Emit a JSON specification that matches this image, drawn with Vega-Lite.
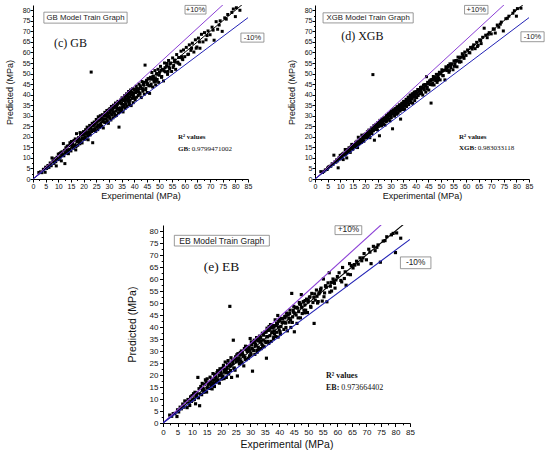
{
  "$schema": "https://vega.github.io/schema/vega-lite/v6.json",
  "background": "white",
  "padding": {"left": 5, "top": 5, "right": 0, "bottom": 0},
  "datasets": {
    "one": [{}],
    "lines": [
      {"s": "fit", "x": 0, "y": 0}, {"s": "fit", "x": 85, "y": 85},
      {"s": "plus", "x": 0, "y": 0}, {"s": "plus", "x": 85, "y": 93.5},
      {"s": "minus", "x": 0, "y": 0}, {"s": "minus", "x": 85, "y": 76.5}
    ],
    "pts": [
      {"e":2.3,"gb":3.1,"xgb":3.5,"eb":3.3},{"e":3.0,"gb":3.4,"xgb":3.1,"eb":2.8},{"e":3.5,"gb":3.0,"xgb":3.6,"eb":3.9},
      {"e":4.1,"gb":4.6,"xgb":4.3,"eb":4.0},{"e":4.8,"gb":3.2,"xgb":4.5,"eb":2.7},{"e":5.0,"gb":5.6,"xgb":5.2,"eb":5.5},
      {"e":5.4,"gb":5.0,"xgb":5.7,"eb":4.6},{"e":5.9,"gb":6.4,"xgb":6.0,"eb":6.6},{"e":6.3,"gb":5.5,"xgb":6.1,"eb":5.9},
      {"e":6.8,"gb":7.6,"xgb":7.2,"eb":7.9},{"e":7.2,"gb":6.3,"xgb":7.0,"eb":6.6},{"e":7.5,"gb":10.0,"xgb":11.3,"eb":9.2},
      {"e":7.9,"gb":8.6,"xgb":8.1,"eb":8.9},{"e":8.3,"gb":7.4,"xgb":8.0,"eb":6.4},{"e":8.6,"gb":9.6,"xgb":9.1,"eb":9.8},
      {"e":9.0,"gb":8.2,"xgb":8.6,"eb":8.1},{"e":9.2,"gb":6.2,"xgb":5.3,"eb":7.3},{"e":9.5,"gb":10.3,"xgb":10.0,"eb":10.9},
      {"e":9.8,"gb":9.2,"xgb":9.5,"eb":9.0},{"e":10.0,"gb":11.8,"xgb":11.2,"eb":11.4},
      {"e":10.3,"gb":9.4,"xgb":9.9,"eb":9.6},{"e":10.5,"gb":12.0,"xgb":11.4,"eb":12.2},{"e":10.8,"gb":10.4,"xgb":10.6,"eb":9.8},
      {"e":11.0,"gb":12.5,"xgb":11.9,"eb":12.8},{"e":11.2,"gb":8.6,"xgb":9.2,"eb":8.0},{"e":11.5,"gb":12.9,"xgb":12.3,"eb":11.1},
      {"e":11.7,"gb":11.2,"xgb":11.5,"eb":12.6},{"e":12.0,"gb":16.8,"xgb":14.0,"eb":19.0},{"e":12.2,"gb":11.0,"xgb":11.6,"eb":10.5},
      {"e":12.4,"gb":13.6,"xgb":13.0,"eb":14.3},{"e":12.6,"gb":7.3,"xgb":10.0,"eb":7.2},{"e":12.8,"gb":12.3,"xgb":12.5,"eb":12.0},
      {"e":13.0,"gb":14.8,"xgb":14.0,"eb":15.2},{"e":13.3,"gb":12.4,"xgb":12.9,"eb":11.8},{"e":13.5,"gb":15.6,"xgb":14.8,"eb":16.5},
      {"e":13.8,"gb":13.2,"xgb":13.5,"eb":14.4},{"e":14.0,"gb":12.0,"xgb":12.6,"eb":12.8},{"e":14.2,"gb":15.8,"xgb":15.1,"eb":16.0},
      {"e":14.5,"gb":14.0,"xgb":14.3,"eb":13.4},{"e":14.8,"gb":16.3,"xgb":15.5,"eb":17.2},{"e":15.0,"gb":13.3,"xgb":14.1,"eb":12.9},
      {"e":15.2,"gb":17.8,"xgb":16.4,"eb":18.4},{"e":15.5,"gb":15.0,"xgb":15.3,"eb":15.8},{"e":15.7,"gb":16.9,"xgb":16.2,"eb":16.6},
      {"e":16.0,"gb":14.6,"xgb":15.2,"eb":14.4},{"e":16.2,"gb":18.3,"xgb":17.4,"eb":19.1},{"e":16.4,"gb":16.0,"xgb":16.2,"eb":17.0},
      {"e":16.7,"gb":19.0,"xgb":17.9,"eb":18.2},{"e":17.0,"gb":15.4,"xgb":16.2,"eb":15.8},{"e":17.2,"gb":21.5,"xgb":19.8,"eb":20.6},
      {"e":17.4,"gb":17.8,"xgb":17.3,"eb":16.7},{"e":17.7,"gb":16.0,"xgb":16.8,"eb":15.2},{"e":18.0,"gb":19.6,"xgb":18.8,"eb":20.2},
      {"e":18.2,"gb":18.6,"xgb":18.4,"eb":19.0},{"e":18.5,"gb":16.7,"xgb":17.3,"eb":17.6},{"e":18.8,"gb":21.0,"xgb":20.2,"eb":21.8},
      {"e":19.0,"gb":18.4,"xgb":18.7,"eb":18.0},{"e":19.2,"gb":20.8,"xgb":19.9,"eb":21.4},{"e":19.4,"gb":17.1,"xgb":17.9,"eb":16.6},
      {"e":19.6,"gb":21.8,"xgb":20.9,"eb":22.6},{"e":19.8,"gb":19.2,"xgb":19.5,"eb":19.9},{"e":20.0,"gb":22.5,"xgb":21.3,"eb":20.8},
      {"e":14.6,"gb":17.2,"xgb":16.4,"eb":18.0},{"e":16.9,"gb":13.8,"xgb":14.9,"eb":14.2},{"e":18.6,"gb":22.0,"xgb":20.8,"eb":21.0},
      {"e":20.2,"gb":18.8,"xgb":19.5,"eb":18.3},{"e":20.4,"gb":21.6,"xgb":21.0,"eb":22.8},{"e":20.6,"gb":20.0,"xgb":20.3,"eb":19.6},
      {"e":20.8,"gb":23.4,"xgb":22.4,"eb":24.0},{"e":21.0,"gb":19.0,"xgb":19.8,"eb":18.5},{"e":21.2,"gb":22.0,"xgb":21.6,"eb":21.4},
      {"e":21.4,"gb":24.6,"xgb":23.2,"eb":25.4},{"e":21.6,"gb":20.4,"xgb":21.0,"eb":20.9},{"e":21.8,"gb":18.6,"xgb":19.6,"eb":19.0},
      {"e":22.0,"gb":23.6,"xgb":22.8,"eb":23.1},{"e":22.2,"gb":22.4,"xgb":22.3,"eb":24.6},{"e":22.4,"gb":25.4,"xgb":24.2,"eb":26.0},
      {"e":22.6,"gb":20.9,"xgb":21.5,"eb":20.4},{"e":22.8,"gb":24.0,"xgb":23.4,"eb":23.8},{"e":23.0,"gb":50.7,"xgb":49.5,"eb":48.6},
      {"e":23.2,"gb":22.5,"xgb":22.9,"eb":21.9},{"e":23.4,"gb":26.4,"xgb":25.3,"eb":27.2},{"e":23.6,"gb":17.2,"xgb":18.4,"eb":19.0},
      {"e":23.8,"gb":25.2,"xgb":24.5,"eb":25.8},{"e":24.0,"gb":23.0,"xgb":23.5,"eb":24.8},{"e":24.2,"gb":27.0,"xgb":25.9,"eb":34.5},
      {"e":24.4,"gb":23.8,"xgb":24.1,"eb":22.8},{"e":24.6,"gb":26.0,"xgb":25.4,"eb":26.6},{"e":24.8,"gb":22.6,"xgb":23.3,"eb":22.0},
      {"e":25.0,"gb":28.2,"xgb":26.8,"eb":27.6},{"e":25.2,"gb":24.6,"xgb":24.9,"eb":25.5},{"e":25.4,"gb":27.4,"xgb":26.5,"eb":28.4},
      {"e":25.6,"gb":23.4,"xgb":20.5,"eb":19.6},{"e":25.8,"gb":29.5,"xgb":27.8,"eb":28.9},{"e":26.0,"gb":25.4,"xgb":25.7,"eb":26.2},
      {"e":26.2,"gb":27.8,"xgb":27.0,"eb":27.1},{"e":26.4,"gb":24.5,"xgb":25.2,"eb":24.8},{"e":26.6,"gb":30.0,"xgb":28.4,"eb":29.4},
      {"e":26.8,"gb":26.3,"xgb":26.6,"eb":25.9},{"e":27.0,"gb":28.6,"xgb":28.0,"eb":30.0},{"e":27.2,"gb":25.0,"xgb":25.9,"eb":25.2},
      {"e":27.4,"gb":30.5,"xgb":29.0,"eb":28.6},{"e":27.6,"gb":27.2,"xgb":27.4,"eb":27.9},{"e":27.8,"gb":24.2,"xgb":25.6,"eb":23.8},
      {"e":28.0,"gb":29.8,"xgb":29.0,"eb":31.0},{"e":28.2,"gb":28.4,"xgb":28.3,"eb":27.4},{"e":28.4,"gb":31.6,"xgb":30.2,"eb":32.0},
      {"e":28.6,"gb":26.8,"xgb":27.6,"eb":26.4},{"e":28.8,"gb":30.0,"xgb":29.6,"eb":30.5},{"e":29.0,"gb":28.5,"xgb":28.8,"eb":29.8},
      {"e":29.2,"gb":32.5,"xgb":31.0,"eb":31.8},{"e":29.4,"gb":27.5,"xgb":28.3,"eb":27.0},{"e":29.6,"gb":30.8,"xgb":30.2,"eb":31.4},
      {"e":29.8,"gb":26.4,"xgb":27.6,"eb":28.0},{"e":30.0,"gb":32.8,"xgb":31.5,"eb":35.2},
      {"e":30.2,"gb":29.6,"xgb":29.9,"eb":29.2},{"e":30.4,"gb":33.4,"xgb":32.2,"eb":33.8},{"e":30.6,"gb":31.2,"xgb":30.8,"eb":31.0},
      {"e":30.8,"gb":28.0,"xgb":23.8,"eb":21.6},{"e":31.0,"gb":34.4,"xgb":32.8,"eb":33.5},{"e":31.2,"gb":30.4,"xgb":30.9,"eb":30.2},
      {"e":31.4,"gb":32.6,"xgb":32.0,"eb":34.5},{"e":31.6,"gb":29.0,"xgb":29.8,"eb":28.6},{"e":31.8,"gb":35.0,"xgb":33.4,"eb":32.8},
      {"e":32.0,"gb":31.5,"xgb":31.8,"eb":32.4},{"e":32.2,"gb":33.8,"xgb":33.0,"eb":35.6},{"e":32.4,"gb":29.8,"xgb":30.7,"eb":29.5},
      {"e":32.6,"gb":36.0,"xgb":34.3,"eb":34.2},{"e":32.8,"gb":32.2,"xgb":32.5,"eb":31.6},{"e":33.0,"gb":30.2,"xgb":31.2,"eb":30.6},
      {"e":33.2,"gb":35.2,"xgb":34.2,"eb":36.2},{"e":33.4,"gb":33.0,"xgb":33.2,"eb":33.8},{"e":33.6,"gb":36.8,"xgb":35.2,"eb":35.4},
      {"e":33.8,"gb":31.4,"xgb":32.2,"eb":31.0},{"e":34.0,"gb":24.6,"xgb":28.4,"eb":32.8},{"e":34.2,"gb":36.0,"xgb":35.0,"eb":37.4},
      {"e":34.4,"gb":33.6,"xgb":34.0,"eb":34.6},{"e":34.6,"gb":37.4,"xgb":36.0,"eb":36.6},{"e":34.8,"gb":32.0,"xgb":32.9,"eb":31.8},
      {"e":35.0,"gb":35.8,"xgb":35.4,"eb":37.8},{"e":35.2,"gb":38.5,"xgb":36.8,"eb":38.0},{"e":35.4,"gb":34.2,"xgb":34.7,"eb":33.5},
      {"e":35.6,"gb":31.8,"xgb":33.0,"eb":27.0},{"e":35.8,"gb":37.2,"xgb":36.6,"eb":39.5},{"e":36.0,"gb":35.0,"xgb":35.5,"eb":35.9},
      {"e":36.2,"gb":39.5,"xgb":37.8,"eb":38.6},{"e":36.4,"gb":33.5,"xgb":34.4,"eb":33.2},{"e":36.6,"gb":37.8,"xgb":37.0,"eb":38.8},
      {"e":36.8,"gb":35.6,"xgb":36.1,"eb":36.4},{"e":37.0,"gb":40.4,"xgb":38.8,"eb":41.0},{"e":37.2,"gb":34.4,"xgb":35.3,"eb":34.0},
      {"e":37.4,"gb":38.6,"xgb":37.9,"eb":37.6},{"e":37.6,"gb":36.8,"xgb":37.1,"eb":39.6},{"e":37.8,"gb":41.5,"xgb":39.8,"eb":40.5},
      {"e":38.0,"gb":35.3,"xgb":36.2,"eb":35.1},{"e":38.2,"gb":39.0,"xgb":38.5,"eb":39.9},{"e":38.4,"gb":37.4,"xgb":37.9,"eb":37.2},
      {"e":38.6,"gb":42.2,"xgb":40.4,"eb":43.0},{"e":38.8,"gb":34.8,"xgb":35.9,"eb":36.0},{"e":39.0,"gb":40.0,"xgb":39.4,"eb":40.6},
      {"e":39.2,"gb":38.2,"xgb":38.7,"eb":37.8},{"e":39.4,"gb":42.8,"xgb":41.2,"eb":41.4},{"e":39.6,"gb":36.2,"xgb":37.2,"eb":35.8},
      {"e":39.8,"gb":40.8,"xgb":40.3,"eb":42.4},{"e":40.0,"gb":38.4,"xgb":39.0,"eb":38.8},{"e":33.1,"gb":34.4,"xgb":33.8,"eb":34.9},
      {"e":35.1,"gb":33.0,"xgb":33.9,"eb":34.1},{"e":36.5,"gb":36.8,"xgb":36.4,"eb":40.2},{"e":38.3,"gb":41.0,"xgb":39.6,"eb":38.4},
      {"e":39.5,"gb":39.8,"xgb":39.5,"eb":44.8},
      {"e":40.2,"gb":42.6,"xgb":41.4,"eb":43.2},{"e":40.4,"gb":37.5,"xgb":38.6,"eb":37.0},{"e":40.6,"gb":41.0,"xgb":40.6,"eb":40.2},
      {"e":40.8,"gb":44.0,"xgb":42.4,"eb":43.6},{"e":41.0,"gb":38.8,"xgb":39.6,"eb":41.8},{"e":41.3,"gb":42.4,"xgb":41.9,"eb":42.0},
      {"e":41.6,"gb":39.6,"xgb":40.4,"eb":39.0},{"e":41.9,"gb":45.0,"xgb":43.4,"eb":44.4},{"e":42.2,"gb":40.8,"xgb":41.3,"eb":41.6},
      {"e":42.5,"gb":43.6,"xgb":43.0,"eb":45.8},{"e":42.8,"gb":38.6,"xgb":39.8,"eb":38.4},{"e":43.1,"gb":46.2,"xgb":44.5,"eb":45.0},
      {"e":43.4,"gb":41.6,"xgb":42.3,"eb":42.0},{"e":43.7,"gb":44.6,"xgb":44.0,"eb":47.0},{"e":44.0,"gb":40.2,"xgb":41.2,"eb":39.8},
      {"e":44.3,"gb":54.0,"xgb":48.5,"eb":54.0},{"e":44.6,"gb":43.0,"xgb":43.6,"eb":44.2},{"e":44.9,"gb":46.8,"xgb":45.8,"eb":46.2},
      {"e":45.2,"gb":41.0,"xgb":42.2,"eb":38.0},{"e":45.5,"gb":47.6,"xgb":46.5,"eb":48.0},{"e":45.8,"gb":44.2,"xgb":44.8,"eb":45.0},
      {"e":46.1,"gb":40.6,"xgb":36.0,"eb":41.5},{"e":46.4,"gb":48.2,"xgb":47.2,"eb":47.8},{"e":46.7,"gb":45.0,"xgb":45.6,"eb":46.4},
      {"e":47.0,"gb":50.5,"xgb":48.6,"eb":49.6},{"e":47.3,"gb":43.6,"xgb":44.6,"eb":43.8},{"e":47.6,"gb":48.8,"xgb":48.0,"eb":53.5},
      {"e":47.9,"gb":46.0,"xgb":46.6,"eb":45.6},{"e":48.2,"gb":51.4,"xgb":49.6,"eb":50.4},{"e":48.5,"gb":44.6,"xgb":45.8,"eb":47.0},
      {"e":48.8,"gb":49.8,"xgb":49.0,"eb":49.2},{"e":49.1,"gb":47.2,"xgb":47.8,"eb":47.0},{"e":49.4,"gb":52.0,"xgb":50.6,"eb":51.6},
      {"e":49.7,"gb":45.8,"xgb":47.0,"eb":46.0},{"e":50.0,"gb":50.6,"xgb":50.2,"eb":51.0},{"e":42.0,"gb":42.8,"xgb":42.4,"eb":43.8},
      {"e":43.9,"gb":45.8,"xgb":44.8,"eb":43.0},{"e":45.0,"gb":45.6,"xgb":45.2,"eb":48.6},{"e":46.9,"gb":47.6,"xgb":47.2,"eb":50.2},
      {"e":48.4,"gb":47.6,"xgb":48.0,"eb":50.6},
      {"e":50.4,"gb":53.4,"xgb":51.8,"eb":52.4},{"e":50.8,"gb":48.2,"xgb":49.0,"eb":48.6},{"e":51.2,"gb":52.0,"xgb":51.5,"eb":54.0},
      {"e":51.6,"gb":46.5,"xgb":47.0,"eb":50.2},{"e":52.0,"gb":55.0,"xgb":53.2,"eb":41.5},{"e":52.4,"gb":50.8,"xgb":51.4,"eb":51.2},
      {"e":52.8,"gb":53.6,"xgb":53.0,"eb":55.4},{"e":53.2,"gb":49.6,"xgb":50.6,"eb":50.0},{"e":53.6,"gb":56.2,"xgb":54.6,"eb":53.8},
      {"e":54.0,"gb":52.4,"xgb":52.8,"eb":54.6},{"e":54.4,"gb":55.0,"xgb":54.6,"eb":56.2},{"e":54.8,"gb":51.0,"xgb":51.8,"eb":50.8},
      {"e":55.2,"gb":57.4,"xgb":56.0,"eb":60.0},{"e":55.6,"gb":53.8,"xgb":54.4,"eb":54.2},{"e":56.0,"gb":56.4,"xgb":56.2,"eb":57.2},
      {"e":56.4,"gb":52.0,"xgb":53.2,"eb":50.5},{"e":56.8,"gb":59.0,"xgb":57.8,"eb":58.4},{"e":57.2,"gb":55.4,"xgb":56.0,"eb":62.6},
      {"e":57.6,"gb":57.6,"xgb":57.4,"eb":57.0},{"e":58.0,"gb":54.4,"xgb":55.6,"eb":55.0},{"e":58.5,"gb":60.6,"xgb":59.4,"eb":60.0},
      {"e":59.0,"gb":57.0,"xgb":57.8,"eb":58.2},{"e":59.5,"gb":61.2,"xgb":60.2,"eb":59.6},{"e":60.0,"gb":58.0,"xgb":58.6,"eb":61.0},
      {"e":53.0,"gb":54.8,"xgb":53.8,"eb":52.8},
      {"e":60.6,"gb":62.4,"xgb":61.2,"eb":62.6},{"e":61.2,"gb":59.0,"xgb":60.0,"eb":59.4},{"e":61.8,"gb":63.6,"xgb":62.4,"eb":64.8},
      {"e":62.4,"gb":61.0,"xgb":61.6,"eb":60.2},{"e":63.0,"gb":64.4,"xgb":63.6,"eb":57.4},{"e":63.6,"gb":60.2,"xgb":61.8,"eb":62.0},
      {"e":64.2,"gb":66.0,"xgb":64.8,"eb":66.4},{"e":64.8,"gb":62.6,"xgb":63.4,"eb":65.6},{"e":65.4,"gb":66.8,"xgb":66.0,"eb":64.6},
      {"e":66.0,"gb":62.0,"xgb":64.2,"eb":65.8},{"e":66.6,"gb":68.6,"xgb":67.2,"eb":67.4},{"e":67.2,"gb":65.0,"xgb":71.5,"eb":66.2},
      {"e":67.8,"gb":69.4,"xgb":68.2,"eb":68.8},{"e":68.4,"gb":66.0,"xgb":67.0,"eb":67.6},{"e":69.2,"gb":70.2,"xgb":69.4,"eb":70.6},
      {"e":70.0,"gb":68.4,"xgb":68.8,"eb":68.0},{"e":70.8,"gb":72.0,"xgb":71.2,"eb":72.4},{"e":71.6,"gb":65.8,"xgb":69.2,"eb":66.4},
      {"e":72.4,"gb":74.6,"xgb":73.0,"eb":73.6},{"e":73.0,"gb":71.0,"xgb":72.0,"eb":71.8},{"e":74.0,"gb":75.0,"xgb":74.4,"eb":74.2},
      {"e":74.8,"gb":70.0,"xgb":70.2,"eb":67.0},{"e":75.8,"gb":76.4,"xgb":76.0,"eb":75.8},{"e":77.0,"gb":78.0,"xgb":77.2,"eb":77.6},
      {"e":78.6,"gb":79.0,"xgb":78.6,"eb":78.4},{"e":80.0,"gb":77.0,"xgb":77.2,"eb":71.0},{"e":80.4,"gb":81.2,"xgb":80.8,"eb":79.2},
      {"e":81.8,"gb":80.0,"xgb":81.0,"eb":77.0},{"e":79.2,"gb":80.6,"xgb":79.8,"eb":79.0},
      {"e":15.3,"gb":16.2,"xgb":15.9,"eb":14.6},{"e":17.8,"gb":18.9,"xgb":18.5,"eb":19.4},{"e":19.9,"gb":21.0,"xgb":20.6,"eb":21.5},
      {"e":21.1,"gb":21.8,"xgb":21.5,"eb":22.3},{"e":22.9,"gb":24.4,"xgb":23.9,"eb":24.6},{"e":24.1,"gb":25.5,"xgb":25.0,"eb":26.0},
      {"e":25.3,"gb":26.9,"xgb":26.2,"eb":26.8},{"e":26.5,"gb":28.0,"xgb":27.5,"eb":28.3},{"e":27.3,"gb":28.9,"xgb":28.4,"eb":29.4},
      {"e":28.5,"gb":30.2,"xgb":29.5,"eb":30.6},{"e":29.5,"gb":31.3,"xgb":30.6,"eb":31.6},{"e":30.5,"gb":32.4,"xgb":31.6,"eb":32.5},
      {"e":31.5,"gb":33.4,"xgb":32.6,"eb":33.8},{"e":32.5,"gb":34.6,"xgb":33.6,"eb":34.8},{"e":33.5,"gb":35.6,"xgb":34.8,"eb":35.8},
      {"e":34.5,"gb":36.6,"xgb":35.8,"eb":36.9},{"e":35.5,"gb":37.5,"xgb":36.8,"eb":37.9},{"e":36.3,"gb":38.4,"xgb":37.6,"eb":38.8},
      {"e":37.3,"gb":39.5,"xgb":38.6,"eb":39.8},{"e":38.1,"gb":40.2,"xgb":39.4,"eb":40.6},{"e":39.1,"gb":41.2,"xgb":40.4,"eb":41.6},
      {"e":40.1,"gb":42.2,"xgb":41.4,"eb":42.6},{"e":41.1,"gb":43.0,"xgb":42.4,"eb":43.4},{"e":42.4,"gb":44.2,"xgb":43.6,"eb":44.6},
      {"e":43.6,"gb":45.4,"xgb":44.8,"eb":45.6},{"e":44.8,"gb":46.4,"xgb":45.8,"eb":47.0},{"e":46.0,"gb":47.4,"xgb":47.0,"eb":48.2},
      {"e":47.4,"gb":48.6,"xgb":48.2,"eb":49.4},{"e":48.9,"gb":50.0,"xgb":49.6,"eb":51.0},{"e":50.6,"gb":51.6,"xgb":51.2,"eb":52.6},
      {"e":52.2,"gb":52.8,"xgb":52.6,"eb":53.8},{"e":54.2,"gb":54.6,"xgb":54.4,"eb":55.6},{"e":55.9,"gb":55.8,"xgb":55.8,"eb":57.0},
      {"e":57.9,"gb":57.6,"xgb":57.8,"eb":58.6},
      {"e":16.6,"gb":15.8,"xgb":16.0,"eb":15.6},{"e":18.3,"gb":17.4,"xgb":17.6,"eb":17.0},{"e":20.5,"gb":19.4,"xgb":19.7,"eb":19.2},
      {"e":22.5,"gb":21.3,"xgb":21.6,"eb":21.0},{"e":24.5,"gb":23.2,"xgb":23.5,"eb":22.9},{"e":26.3,"gb":25.0,"xgb":25.3,"eb":24.6},
      {"e":28.3,"gb":26.9,"xgb":27.2,"eb":26.5},{"e":30.3,"gb":28.8,"xgb":29.1,"eb":28.4},{"e":32.3,"gb":30.7,"xgb":31.0,"eb":30.3},
      {"e":34.3,"gb":32.6,"xgb":33.0,"eb":32.2},{"e":36.1,"gb":34.3,"xgb":34.7,"eb":34.0},{"e":38.1,"gb":36.2,"xgb":36.6,"eb":35.8},
      {"e":40.3,"gb":38.3,"xgb":38.7,"eb":38.0},{"e":42.3,"gb":40.2,"xgb":40.6,"eb":39.8},{"e":44.5,"gb":42.3,"xgb":42.7,"eb":41.9},
      {"e":46.5,"gb":44.2,"xgb":44.6,"eb":43.8},{"e":48.7,"gb":46.3,"xgb":46.8,"eb":45.9},{"e":50.9,"gb":48.6,"xgb":49.0,"eb":48.2},
      {"e":53.4,"gb":51.0,"xgb":51.4,"eb":50.6},{"e":55.4,"gb":52.9,"xgb":53.4,"eb":52.6},{"e":57.4,"gb":54.9,"xgb":55.4,"eb":54.5},
      {"e":59.2,"gb":56.6,"xgb":57.2,"eb":56.2},{"e":61.5,"gb":59.2,"xgb":59.8,"eb":58.8},{"e":64.5,"gb":62.0,"xgb":62.8,"eb":61.8},
      {"e":11.4,"gb":11.6,"xgb":11.5,"eb":11.8},{"e":13.6,"gb":13.8,"xgb":13.7,"eb":14.0},{"e":15.9,"gb":16.0,"xgb":16.0,"eb":16.4},
      {"e":17.5,"gb":17.6,"xgb":17.6,"eb":18.0},{"e":19.3,"gb":19.4,"xgb":19.4,"eb":19.8},{"e":21.7,"gb":21.6,"xgb":21.8,"eb":22.0},
      {"e":23.3,"gb":23.4,"xgb":23.4,"eb":23.8},{"e":25.7,"gb":25.6,"xgb":25.8,"eb":26.1},{"e":27.7,"gb":27.6,"xgb":27.8,"eb":28.0},
      {"e":29.7,"gb":29.6,"xgb":29.8,"eb":30.2},{"e":31.7,"gb":31.6,"xgb":31.7,"eb":32.0},{"e":33.7,"gb":33.4,"xgb":33.6,"eb":34.0},
      {"e":35.7,"gb":35.4,"xgb":35.6,"eb":36.0},{"e":37.7,"gb":37.4,"xgb":37.6,"eb":38.0},{"e":39.7,"gb":39.4,"xgb":39.6,"eb":40.0},
      {"e":41.7,"gb":41.2,"xgb":41.6,"eb":42.0},{"e":43.3,"gb":42.8,"xgb":43.2,"eb":43.6},{"e":45.3,"gb":44.8,"xgb":45.2,"eb":45.8},
      {"e":47.7,"gb":47.0,"xgb":47.6,"eb":48.2},{"e":49.9,"gb":49.2,"xgb":49.8,"eb":50.4},{"e":51.9,"gb":51.2,"xgb":51.8,"eb":52.4},
      {"e":53.8,"gb":53.0,"xgb":53.6,"eb":54.2},{"e":56.2,"gb":55.4,"xgb":56.0,"eb":56.6},{"e":58.8,"gb":58.0,"xgb":58.6,"eb":59.0},
      {"e":62.7,"gb":62.0,"xgb":62.6,"eb":63.0},{"e":65.8,"gb":65.0,"xgb":65.6,"eb":66.0},{"e":68.8,"gb":68.0,"xgb":68.6,"eb":68.8},
      {"e":71.2,"gb":70.6,"xgb":71.0,"eb":71.2},{"e":73.6,"gb":73.0,"xgb":73.4,"eb":73.2},{"e":76.4,"gb":75.8,"xgb":76.2,"eb":76.0}
    ]
  },
  "vconcat": [
    {
      "hconcat": [
        {
          "width": 215,
          "height": 174,
          "layer": [
            {
              "data": {"name": "pts"},
              "mark": {"type": "square", "size": 9, "color": "#000", "opacity": 1},
              "encoding": {
                "x": {"field": "e", "type": "quantitative", "scale": {"domain": [0, 85], "nice": false},
                  "axis": {"title": "Experimental (MPa)", "tickCount": 100, "values": [0,2.5,5,7.5,10,12.5,15,17.5,20,22.5,25,27.5,30,32.5,35,37.5,40,42.5,45,47.5,50,52.5,55,57.5,60,62.5,65,67.5,70,72.5,75,77.5,80,82.5,85],
                    "labelExpr": "datum.value % 5 === 0 ? format(datum.value, 'd') : ''",
                    "tickSize": {"condition": {"test": "datum.value % 5 === 0", "value": 3}, "value": 1.5},
                    "labelPadding": 0, "titlePadding": 2.5}},
                "y": {"field": "gb", "type": "quantitative", "scale": {"domain": [0, 82.5], "nice": false},
                  "axis": {"title": "Predicted (MPa)", "tickCount": 100, "values": [0,2.5,5,7.5,10,12.5,15,17.5,20,22.5,25,27.5,30,32.5,35,37.5,40,42.5,45,47.5,50,52.5,55,57.5,60,62.5,65,67.5,70,72.5,75,77.5,80],
                    "labelExpr": "datum.value % 5 === 0 ? format(datum.value, 'd') : ''",
                    "tickSize": {"condition": {"test": "datum.value % 5 === 0", "value": 3}, "value": 1.5},
                    "labelPadding": 0, "titlePadding": 8}}
              }
            },
            {
              "data": {"name": "lines"},
              "mark": {"type": "line", "strokeWidth": 1, "clip": true},
              "encoding": {
                "x": {"field": "x", "type": "quantitative"},
                "y": {"field": "y", "type": "quantitative"},
                "color": {"field": "s", "type": "nominal", "scale": {"domain": ["fit", "plus", "minus"], "range": ["#000000", "#8b3fd6", "#2222b5"]}, "legend": null}
              }
            },
            {"data": {"name": "one"}, "mark": {"type": "rect", "fill": "#fff", "stroke": "#808080", "strokeWidth": 0.8},
              "encoding": {"x": {"datum": 4.3}, "x2": {"datum": 37.2}, "y": {"datum": 73.9}, "y2": {"datum": 79.1}}},
            {"data": {"name": "one"}, "mark": {"type": "rect", "fill": "#fff", "stroke": "#808080", "strokeWidth": 0.8},
              "encoding": {"x": {"datum": 60.1}, "x2": {"datum": 68.4}, "y": {"datum": 78.2}, "y2": {"datum": 82.3}}},
            {"data": {"name": "one"}, "mark": {"type": "rect", "fill": "#fff", "stroke": "#808080", "strokeWidth": 0.8},
              "encoding": {"x": {"datum": 82.2}, "x2": {"datum": 91.3}, "y": {"datum": 64.9}, "y2": {"datum": 69.2}}},
            {"data": {"name": "one"}, "mark": {"type": "text", "text": "GB Model Train Graph", "font": "Liberation Sans", "fontSize": 7.8, "align": "center", "baseline": "middle", "color": "#222"},
              "encoding": {"x": {"datum": 20.75}, "y": {"datum": 76.5}}},
            {"data": {"name": "one"}, "mark": {"type": "text", "text": "+10%", "font": "Liberation Sans", "fontSize": 7.5, "align": "center", "baseline": "middle", "color": "#222"},
              "encoding": {"x": {"datum": 64.25}, "y": {"datum": 80.2}}},
            {"data": {"name": "one"}, "mark": {"type": "text", "text": "-10%", "font": "Liberation Sans", "fontSize": 7.5, "align": "center", "baseline": "middle", "color": "#222"},
              "encoding": {"x": {"datum": 86.75}, "y": {"datum": 67}}},
            {"data": {"name": "one"}, "mark": {"type": "text", "text": "(c) GB", "font": "Liberation Serif", "fontSize": 12, "align": "left", "baseline": "middle", "color": "#111"},
              "encoding": {"x": {"datum": 8.3}, "y": {"datum": 64.4}}},
            {"data": {"name": "one"}, "mark": {"type": "text", "text": "R² values", "font": "Liberation Serif", "fontSize": 7, "fontWeight": "bold", "align": "left", "baseline": "middle", "color": "#111"},
              "encoding": {"x": {"datum": 57.3}, "y": {"datum": 19.9}}},
            {"data": {"name": "one"}, "mark": {"type": "text", "text": "GB:", "font": "Liberation Serif", "fontSize": 7, "fontWeight": "bold", "align": "left", "baseline": "middle", "color": "#111"},
              "encoding": {"x": {"datum": 57.3}, "y": {"datum": 14.2}}},
            {"data": {"name": "one"}, "mark": {"type": "text", "text": "0.9799471002", "font": "Liberation Serif", "fontSize": 7, "align": "left", "baseline": "middle", "color": "#111"},
              "encoding": {"x": {"datum": 62.8}, "y": {"datum": 14.2}}}
          ]
        },
        {
          "width": 214,
          "height": 174,
          "layer": [
            {
              "data": {"name": "pts"},
              "mark": {"type": "square", "size": 9, "color": "#000", "opacity": 1},
              "encoding": {
                "x": {"field": "e", "type": "quantitative", "scale": {"domain": [0, 85], "nice": false},
                  "axis": {"title": "Experimental (MPa)", "tickCount": 100, "values": [0,2.5,5,7.5,10,12.5,15,17.5,20,22.5,25,27.5,30,32.5,35,37.5,40,42.5,45,47.5,50,52.5,55,57.5,60,62.5,65,67.5,70,72.5,75,77.5,80,82.5,85],
                    "labelExpr": "datum.value % 5 === 0 ? format(datum.value, 'd') : ''",
                    "tickSize": {"condition": {"test": "datum.value % 5 === 0", "value": 3}, "value": 1.5},
                    "labelPadding": 0, "titlePadding": 2.5}},
                "y": {"field": "xgb", "type": "quantitative", "scale": {"domain": [0, 82.5], "nice": false},
                  "axis": {"title": "Predicted (MPa)", "tickCount": 100, "values": [0,2.5,5,7.5,10,12.5,15,17.5,20,22.5,25,27.5,30,32.5,35,37.5,40,42.5,45,47.5,50,52.5,55,57.5,60,62.5,65,67.5,70,72.5,75,77.5,80],
                    "labelExpr": "datum.value % 5 === 0 ? format(datum.value, 'd') : ''",
                    "tickSize": {"condition": {"test": "datum.value % 5 === 0", "value": 3}, "value": 1.5},
                    "labelPadding": 0, "titlePadding": 8}}
              }
            },
            {
              "data": {"name": "lines"},
              "mark": {"type": "line", "strokeWidth": 1, "clip": true},
              "encoding": {
                "x": {"field": "x", "type": "quantitative"},
                "y": {"field": "y", "type": "quantitative"},
                "color": {"field": "s", "type": "nominal", "scale": {"domain": ["fit", "plus", "minus"], "range": ["#000000", "#8b3fd6", "#2222b5"]}, "legend": null}
              }
            },
            {"data": {"name": "one"}, "mark": {"type": "rect", "fill": "#fff", "stroke": "#808080", "strokeWidth": 0.8},
              "encoding": {"x": {"datum": 3.2}, "x2": {"datum": 39}, "y": {"datum": 74}, "y2": {"datum": 78.8}}},
            {"data": {"name": "one"}, "mark": {"type": "rect", "fill": "#fff", "stroke": "#808080", "strokeWidth": 0.8},
              "encoding": {"x": {"datum": 59.4}, "x2": {"datum": 68.7}, "y": {"datum": 78.2}, "y2": {"datum": 82.3}}},
            {"data": {"name": "one"}, "mark": {"type": "rect", "fill": "#fff", "stroke": "#808080", "strokeWidth": 0.8},
              "encoding": {"x": {"datum": 81.8}, "x2": {"datum": 91}, "y": {"datum": 65.1}, "y2": {"datum": 69.8}}},
            {"data": {"name": "one"}, "mark": {"type": "text", "text": "XGB Model Train Graph", "font": "Liberation Sans", "fontSize": 7.8, "align": "center", "baseline": "middle", "color": "#222"},
              "encoding": {"x": {"datum": 21.1}, "y": {"datum": 76.4}}},
            {"data": {"name": "one"}, "mark": {"type": "text", "text": "+10%", "font": "Liberation Sans", "fontSize": 7.5, "align": "center", "baseline": "middle", "color": "#222"},
              "encoding": {"x": {"datum": 64.05}, "y": {"datum": 80.2}}},
            {"data": {"name": "one"}, "mark": {"type": "text", "text": "-10%", "font": "Liberation Sans", "fontSize": 7.5, "align": "center", "baseline": "middle", "color": "#222"},
              "encoding": {"x": {"datum": 86.4}, "y": {"datum": 67.4}}},
            {"data": {"name": "one"}, "mark": {"type": "text", "text": "(d) XGB", "font": "Liberation Serif", "fontSize": 12, "align": "left", "baseline": "middle", "color": "#111"},
              "encoding": {"x": {"datum": 10.4}, "y": {"datum": 67.6}}},
            {"data": {"name": "one"}, "mark": {"type": "text", "text": "R² values", "font": "Liberation Serif", "fontSize": 7, "fontWeight": "bold", "align": "left", "baseline": "middle", "color": "#111"},
              "encoding": {"x": {"datum": 57.2}, "y": {"datum": 19.8}}},
            {"data": {"name": "one"}, "mark": {"type": "text", "text": "XGB:", "font": "Liberation Serif", "fontSize": 7, "fontWeight": "bold", "align": "left", "baseline": "middle", "color": "#111"},
              "encoding": {"x": {"datum": 57.2}, "y": {"datum": 14.5}}},
            {"data": {"name": "one"}, "mark": {"type": "text", "text": "0.983033118", "font": "Liberation Serif", "fontSize": 7, "align": "left", "baseline": "middle", "color": "#111"},
              "encoding": {"x": {"datum": 64.6}, "y": {"datum": 14.5}}}
          ]
        }
      ],
      "spacing": 22
    },
    {
      "hconcat": [
        {
          "width": 94,
          "height": 198,
          "data": {"name": "one"},
          "mark": {"type": "text", "text": ""},
          "encoding": {}
        },
        {
          "width": 247,
          "height": 198,
          "layer": [
            {
              "data": {"name": "pts"},
              "mark": {"type": "square", "size": 10, "color": "#000", "opacity": 1},
              "encoding": {
                "x": {"field": "e", "type": "quantitative", "scale": {"domain": [0, 85], "nice": false},
                  "axis": {"title": "Experimental (MPa)", "tickCount": 100, "values": [0,2.5,5,7.5,10,12.5,15,17.5,20,22.5,25,27.5,30,32.5,35,37.5,40,42.5,45,47.5,50,52.5,55,57.5,60,62.5,65,67.5,70,72.5,75,77.5,80,82.5,85],
                    "labelExpr": "datum.value % 5 === 0 ? format(datum.value, 'd') : ''",
                    "tickSize": {"condition": {"test": "datum.value % 5 === 0", "value": 3.5}, "value": 1.8},
                    "labelPadding": 1.5, "titlePadding": 3, "labelFontSize": 8, "titleFontSize": 10.5}},
                "y": {"field": "eb", "type": "quantitative", "scale": {"domain": [0, 82.5], "nice": false},
                  "axis": {"title": "Predicted (MPa)", "tickCount": 100, "values": [0,2.5,5,7.5,10,12.5,15,17.5,20,22.5,25,27.5,30,32.5,35,37.5,40,42.5,45,47.5,50,52.5,55,57.5,60,62.5,65,67.5,70,72.5,75,77.5,80],
                    "labelExpr": "datum.value % 5 === 0 ? format(datum.value, 'd') : ''",
                    "tickSize": {"condition": {"test": "datum.value % 5 === 0", "value": 3.5}, "value": 1.8},
                    "labelPadding": 1.5, "titlePadding": 11.5, "labelFontSize": 8, "titleFontSize": 10.5}}
              }
            },
            {
              "data": {"name": "lines"},
              "mark": {"type": "line", "strokeWidth": 1.1, "clip": true},
              "encoding": {
                "x": {"field": "x", "type": "quantitative"},
                "y": {"field": "y", "type": "quantitative"},
                "color": {"field": "s", "type": "nominal", "scale": {"domain": ["fit", "plus", "minus"], "range": ["#000000", "#8b3fd6", "#2222b5"]}, "legend": null}
              }
            },
            {"data": {"name": "one"}, "mark": {"type": "rect", "fill": "#fff", "stroke": "#808080", "strokeWidth": 0.8},
              "encoding": {"x": {"datum": 3.9}, "x2": {"datum": 36.6}, "y": {"datum": 73.75}, "y2": {"datum": 78.2}}},
            {"data": {"name": "one"}, "mark": {"type": "rect", "fill": "#fff", "stroke": "#808080", "strokeWidth": 0.8},
              "encoding": {"x": {"datum": 59.2}, "x2": {"datum": 68.4}, "y": {"datum": 78.5}, "y2": {"datum": 82.2}}},
            {"data": {"name": "one"}, "mark": {"type": "rect", "fill": "#fff", "stroke": "#808080", "strokeWidth": 0.8},
              "encoding": {"x": {"datum": 81.7}, "x2": {"datum": 92.2}, "y": {"datum": 64.3}, "y2": {"datum": 69.2}}},
            {"data": {"name": "one"}, "mark": {"type": "text", "text": "EB Model Train Graph", "font": "Liberation Sans", "fontSize": 8.6, "align": "center", "baseline": "middle", "color": "#222"},
              "encoding": {"x": {"datum": 20.25}, "y": {"datum": 76}}},
            {"data": {"name": "one"}, "mark": {"type": "text", "text": "+10%", "font": "Liberation Sans", "fontSize": 8.3, "align": "center", "baseline": "middle", "color": "#222"},
              "encoding": {"x": {"datum": 63.8}, "y": {"datum": 80.35}}},
            {"data": {"name": "one"}, "mark": {"type": "text", "text": "-10%", "font": "Liberation Sans", "fontSize": 8.3, "align": "center", "baseline": "middle", "color": "#222"},
              "encoding": {"x": {"datum": 86.95}, "y": {"datum": 66.75}}},
            {"data": {"name": "one"}, "mark": {"type": "text", "text": "(e) EB", "font": "Liberation Serif", "fontSize": 13.5, "align": "left", "baseline": "middle", "color": "#111"},
              "encoding": {"x": {"datum": 14}, "y": {"datum": 65}}},
            {"data": {"name": "one"}, "mark": {"type": "text", "text": "R² values", "font": "Liberation Serif", "fontSize": 8, "fontWeight": "bold", "align": "left", "baseline": "middle", "color": "#111"},
              "encoding": {"x": {"datum": 56.1}, "y": {"datum": 19.6}}},
            {"data": {"name": "one"}, "mark": {"type": "text", "text": "EB:", "font": "Liberation Serif", "fontSize": 8, "fontWeight": "bold", "align": "left", "baseline": "middle", "color": "#111"},
              "encoding": {"x": {"datum": 56.1}, "y": {"datum": 14.6}}},
            {"data": {"name": "one"}, "mark": {"type": "text", "text": "0.973664402", "font": "Liberation Serif", "fontSize": 8, "align": "left", "baseline": "middle", "color": "#111"},
              "encoding": {"x": {"datum": 61.3}, "y": {"datum": 14.6}}}
          ]
        }
      ],
      "spacing": 0
    }
  ],
  "spacing": 24,
  "config": {
    "view": {"stroke": null},
    "axis": {
      "grid": false,
      "domainColor": "#000",
      "domainWidth": 1,
      "tickColor": "#000",
      "labelFont": "Liberation Sans",
      "labelFontSize": 7,
      "labelColor": "#111",
      "labelFlush": false,
      "labelOverlap": false,
      "titleFont": "Liberation Sans",
      "titleFontSize": 9,
      "titleFontWeight": "normal",
      "titleColor": "#111"
    }
  }
}
